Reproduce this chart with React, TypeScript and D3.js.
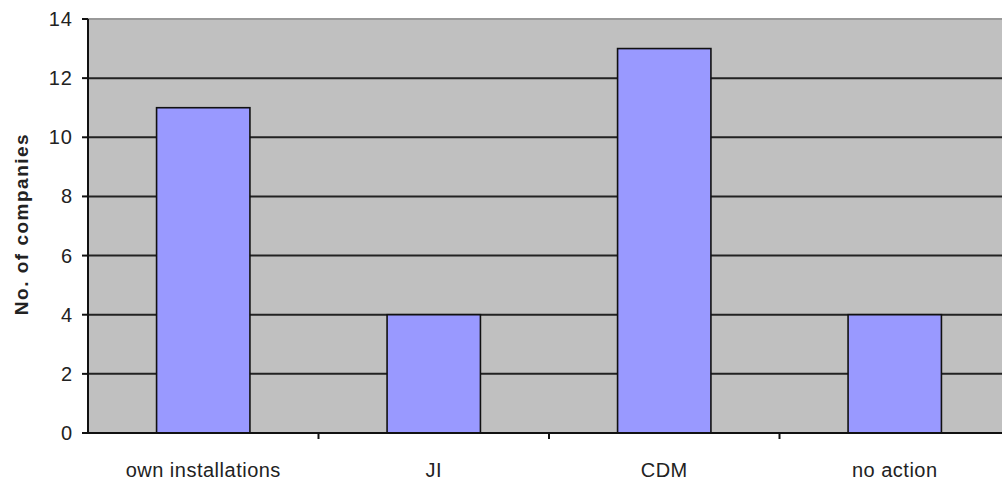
import React from "react";
import * as d3 from "d3";

const categories = ["own installations", "JI", "CDM", "no action"];
const values = [11, 4, 13, 4];
const yTicks = [0, 2, 4, 6, 8, 10, 12, 14];

export default function App() {
  const W = 1002, H = 482;
  const left = 88, top = 19, bottom = 433, right = 1010;
  const x = d3.scaleBand<string>().domain(categories).range([left, right]).paddingInner(0.595).paddingOuter(0.2975);
  const y = d3.scaleLinear().domain([0, 14]).range([bottom, top]);
  const step = x.step();
  const font = "'Liberation Sans', Arial, sans-serif";
  return (
    <svg width={W} height={H} style={{ position: "absolute", left: 0, top: 0, background: "#fff" }}>
      <rect x={left} y={top} width={W - left} height={bottom - top} fill="#c0c0c0" />
      <line x1={left} x2={W} y1={y(14)} y2={y(14)} stroke="#999" strokeWidth={2} />
      {yTicks.filter(t => t > 0 && t < 14).map(t => (
        <line key={t} x1={left} x2={W} y1={y(t)} y2={y(t)} stroke="#222" strokeWidth={2} />
      ))}
      {categories.map((c, i) => (
        <rect key={c} x={x(c)} y={y(values[i])} width={x.bandwidth()} height={bottom - y(values[i])}
          fill="#9999ff" stroke="#111" strokeWidth={1.6} />
      ))}
      <line x1={left} x2={left} y1={top} y2={bottom} stroke="#111" strokeWidth={2} />
      <line x1={left} x2={W} y1={bottom} y2={bottom} stroke="#111" strokeWidth={2} />
      {yTicks.map(t => (
        <g key={t}>
          <line x1={left - 6} x2={left} y1={y(t)} y2={y(t)} stroke="#111" strokeWidth={2} />
          <text x={73} y={y(t) + 7} textAnchor="end" fontFamily={font} fontSize={20} letterSpacing={1} fill="#222">{t}</text>
        </g>
      ))}
      {categories.slice(1).map((c, i) => (
        <line key={c} x1={left + step * (i + 1)} x2={left + step * (i + 1)} y1={bottom} y2={bottom + 6} stroke="#111" strokeWidth={2} />
      ))}
      {categories.map(c => (
        <text key={c} x={(x(c) as number) + x.bandwidth() / 2} y={477} textAnchor="middle" fontFamily={font} fontSize={20} letterSpacing={0.5} fill="#222">{c}</text>
      ))}
      <text transform={`translate(28,224) rotate(-90)`} textAnchor="middle" fontFamily={font} fontWeight="bold" fontSize={19} letterSpacing={1.5} fill="#222">No. of companies</text>
    </svg>
  );
}
